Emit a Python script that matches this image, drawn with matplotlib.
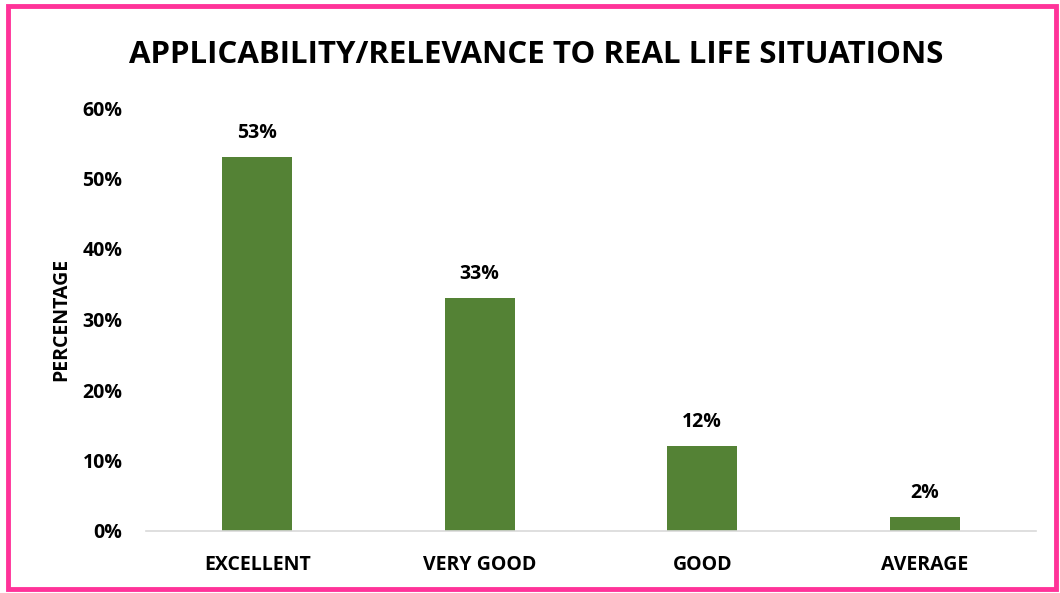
import matplotlib.pyplot as plt
from matplotlib.patches import Rectangle

categories = ["EXCELLENT", "VERY GOOD", "GOOD", "AVERAGE"]
values = [0.53, 0.33, 0.12, 0.02]
yticks = [0, 0.1, 0.2, 0.3, 0.4, 0.5, 0.6]

plt.rcParams['font.family'] = ['Open Sans', 'DejaVu Sans']

fig = plt.figure(figsize=(10.6, 5.93), dpi=100)
ax = fig.add_axes([146/1060, 1-531/593, 890/1060, (531-108)/593])

x = range(len(categories))
bars = ax.bar(x, values, width=0.315, color="#548235")
for xi, v in zip(x, values):
    ax.text(xi, v + 0.02, f"{round(v*100)}%", ha="center", va="bottom",
            fontsize=14, fontweight="bold")

ax.set_xlim(-0.5, 3.5)
ax.set_ylim(0, 0.6)
ax.set_xticks(list(x))
ax.set_xticklabels(categories, fontsize=14, fontweight="bold")
ax.set_yticks(yticks)
ax.set_yticklabels([f"{round(t*100)}%" for t in yticks], fontsize=14, fontweight="bold")
ax.tick_params(axis="both", length=0)
ax.tick_params(axis="x", pad=17)
ax.tick_params(axis="y", pad=17)
for s in ["top", "right", "left"]:
    ax.spines[s].set_visible(False)
ax.spines["bottom"].set_color("#d9d9d9")
ax.spines["bottom"].set_linewidth(1.2)

ax.set_ylabel("PERCENTAGE", fontsize=14, fontweight="bold", labelpad=8)
fig.text(536/1060, 1-55/593, "APPLICABILITY/RELEVANCE TO REAL LIFE SITUATIONS",
         ha="center", va="center", fontsize=22.5, fontweight="bold")

fig.patches.append(Rectangle((8/1060, 4/593), 1048/1060, 583/593, transform=fig.transFigure,
                             fill=False, edgecolor="#ff3399", linewidth=3.5))

fig.savefig("out.png", dpi=100)
